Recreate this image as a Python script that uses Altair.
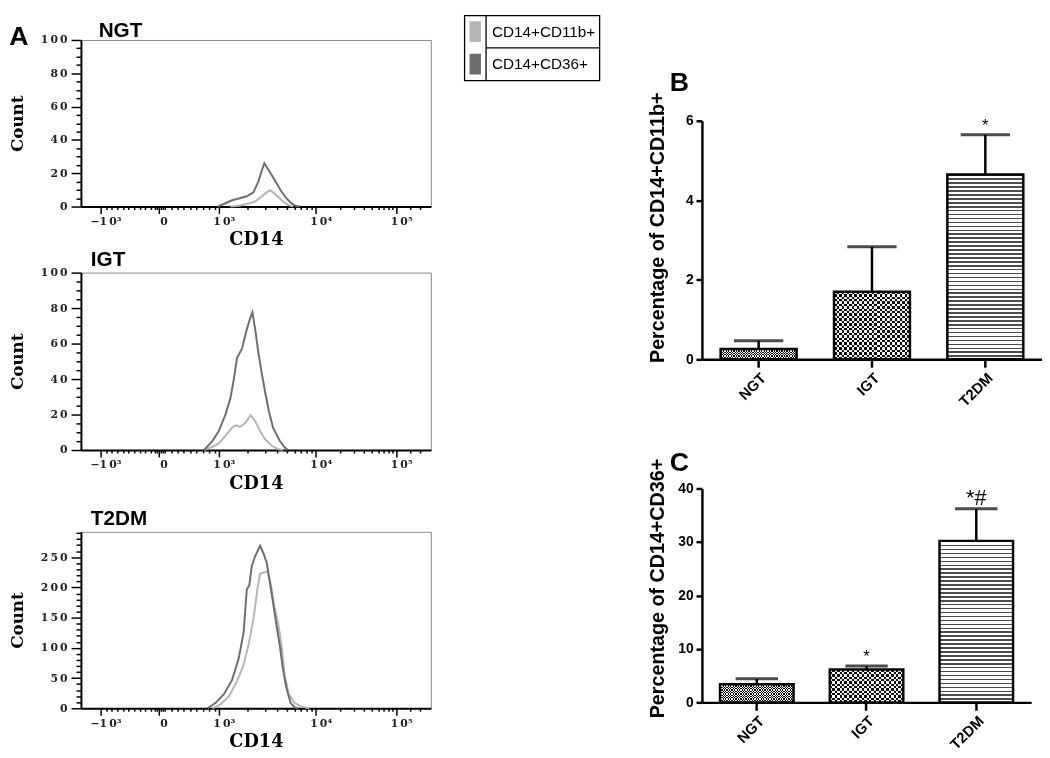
import altair as alt
import pandas as pd

# ---------------- data ----------------
groups = ["NGT", "IGT", "T2DM"]
pct_cd11b_mean = [0.26, 1.70, 4.65]
pct_cd11b_upper = [0.47, 2.83, 5.65]
pct_cd11b_sig = ["", "", "*"]
pct_cd36_mean = [3.4, 6.15, 30.2]
pct_cd36_upper = [4.4, 6.8, 36.2]
pct_cd36_sig = ["", "*", "*#"]

series = ["CD14+CD11b+", "CD14+CD36+"]

# histograms: CD14 on a display (channel) scale 0-1000, counts
ngt_cd36_x = [390, 413, 432, 451, 474, 493, 507, 516, 524, 533, 545, 559, 573, 587, 601, 615, 624]
ngt_cd36_y = [0, 2, 3.8, 4.8, 6.2, 8.5, 15, 21, 26, 23, 19, 14, 9, 5, 2, 0.3, 0]
ngt_cd11b_x = [427, 451, 474, 498, 516, 531, 540, 549, 563, 577, 592, 606]
ngt_cd11b_y = [0, 0.5, 1.5, 3, 6, 8.5, 9.8, 8.5, 6, 3, 1, 0]
igt_cd36_x = [352, 376, 394, 413, 427, 437, 446, 460, 474, 484, 490, 498, 507, 516, 526, 537, 549, 568, 582, 592]
igt_cd36_y = [0, 5.2, 10.7, 20, 29, 40, 52, 57, 68, 74.5, 77.6, 68, 55, 44, 33, 22, 12.6, 5.2, 1.5, 0]
igt_cd11b_x = [352, 376, 394, 413, 432, 443, 455, 470, 485, 498, 512, 526, 545, 563, 577]
igt_cd11b_y = [0, 1.8, 3.7, 8, 12.6, 14, 13, 15.3, 19.6, 16.3, 10.7, 6.1, 2.4, 0.6, 0]
t2dm_cd36_x = [362, 385, 408, 432, 451, 465, 474, 481, 488, 498, 512, 521, 531, 540, 549, 559, 568, 577, 587, 599, 610, 620]
t2dm_cd36_y = [0, 9, 23, 47, 83, 126, 197, 203, 235, 252, 269, 257, 241, 208, 175, 137, 105, 66, 34, 9, 2, 0]
t2dm_cd11b_x = [376, 399, 423, 446, 465, 479, 493, 505, 512, 526, 533, 543, 552, 563, 573, 582, 594, 610, 629, 653]
t2dm_cd11b_y = [0, 6.5, 20, 45, 72, 105, 148, 200, 223, 225, 227, 205, 170, 143, 105, 56, 23, 9, 3, 0]

cd14_major = [56, 222, 394, 671, 901]
cd14_labels = ["\u22121\u20090\u00b3", "0", "1\u20090\u00b3", "1\u20090\u2074", "1\u20090\u2075"]
cd14_minor = [72, 88, 104, 120, 136, 152, 168, 184, 200, 210, 216, 228, 234, 240, 258, 276, 294, 312,
              330, 348, 366, 384, 477, 526, 561, 588, 610, 628, 644, 658, 740, 781, 809, 832, 850,
              865, 879, 891, 940, 970]

LIGHT = "#b5b5b5"
DARK = "#6e6e6e"
SERIF = "DejaVu Serif"
SANS = "Liberation Sans"
CSCALE = alt.Scale(domain=series, range=[LIGHT, DARK])


def spaced(s):
    return "\u2009".join(str(s))


def spacer(w, h):
    return alt.Chart(pd.DataFrame({"t": [0]})).mark_rule(strokeWidth=0, opacity=0).encode(
        x=alt.value(0), y=alt.value(0), y2=alt.value(h)).properties(
        width=w, height=h, view=alt.ViewBackground(strokeOpacity=0))


def label_text(txt, x, y, size, align="left", baseline="alphabetic"):
    return alt.Chart(pd.DataFrame({"t": [txt]})).mark_text(
        font=SANS, fontSize=size, fontWeight="bold", align=align, baseline=baseline,
        color="black").encode(text="t:N", x=alt.value(x), y=alt.value(y))


def flow_panel(title, cd11b_x, cd11b_y, cd36_x, cd36_y, ymax, ytop, major, minor, h,
               title_dx, title_dy, letter):
    df = pd.DataFrame({
        "cd14": cd11b_x + cd36_x,
        "count": cd11b_y + cd36_y,
        "pop": [series[0]] * len(cd11b_x) + [series[1]] * len(cd36_x),
    })
    yvals = list(range(0, ytop + 1, minor))
    ymaj = [v for v in yvals if v % major == 0]
    ylab = " : ".join(f"datum.value == {v} ? '{spaced(v)}'" for v in ymaj) + " : ''"
    xlab = " : ".join(f"datum.value == {v} ? '{l}'" for v, l in zip(cd14_major, cd14_labels)) + " : ''"
    xtest = "indexof([" + ",".join(str(v) for v in cd14_major) + "], datum.value) >= 0"

    xaxis = alt.Axis(
        values=cd14_major + cd14_minor, labelExpr=xlab, labelOverlap=False, labelBound=False,
        tickSize={"condition": {"test": xtest, "value": 7}, "value": 3},
        tickColor="black", tickWidth=1.5, domainColor="black", domainWidth=2,
        labelFont=SERIF, labelFontSize=11, labelFontWeight="bold", labelColor="#222",
        labelPadding=2, labelOffset=5,
        title="CD14", titleFont=SERIF, titleFontSize=18, titleFontWeight="bold",
        titleColor="black", titlePadding=5, grid=False)
    yaxis = alt.Axis(
        values=yvals, labelExpr=ylab, labelOverlap=False, labelBound=False,
        tickSize={"condition": {"test": f"datum.value % {major} == 0", "value": 10}, "value": 5},
        tickColor="black", tickWidth=1.5, domainColor="black", domainWidth=2,
        labelFont=SERIF, labelFontSize=11, labelFontWeight="bold", labelColor="#222",
        labelPadding=4,
        title="Count", titleFont=SERIF, titleFontSize=17, titleFontWeight="bold",
        titleColor="black", titlePadding=14, grid=False)

    lines = alt.Chart(df).mark_line(strokeWidth=2).encode(
        x=alt.X("cd14:Q", scale=alt.Scale(domain=[0, 1000], nice=False, zero=False), axis=xaxis),
        y=alt.Y("count:Q", scale=alt.Scale(domain=[0, ymax], nice=False), axis=yaxis),
        color=alt.Color("pop:N", scale=CSCALE, legend=None),
        order=alt.Order("cd14:Q"),
    )
    layers = [lines, label_text(title, title_dx, title_dy, 21)]
    if letter:
        layers.append(label_text(letter, -63, 5, 27, "center"))
    return alt.layer(*layers).properties(
        width=355, height=h,
        view=alt.ViewBackground(stroke="#8a8a8a", strokeWidth=1),
    )


def stripes(n, c1, c2, vertical, duty):
    stops = []
    for i in range(n):
        a = i / n
        m = (i + duty) / n
        b = (i + 1) / n
        stops += [{"offset": a, "color": c1}, {"offset": m, "color": c1},
                  {"offset": m, "color": c2}, {"offset": b, "color": c2}]
    if vertical:
        return {"gradient": "linear", "stops": stops, "x1": 0, "x2": 1, "y1": 0, "y2": 0}
    return {"gradient": "linear", "stops": stops, "x1": 0, "x2": 0, "y1": 0, "y2": 1}


def bar_panel(means, uppers, sigs, ymax, yvals, w, h, ytitle, title_y, letter, letter_y, cap):
    df = pd.DataFrame({"group": groups, "mean": means, "upper": uppers, "sig": sigs})
    xaxis = alt.Axis(title=None, labelAngle=-45, labelFont=SANS, labelFontWeight="bold",
                     labelFontSize=15, labelColor="black", tickSize=8, tickWidth=2.5,
                     tickColor="black", domainColor="black", domainWidth=2.5, labelPadding=3)
    yaxis = alt.Axis(title=ytitle, values=yvals, grid=False, labelFont=SANS, labelFontWeight="bold",
                     labelFontSize=14, labelColor="black", tickSize=6, tickWidth=2.5,
                     tickColor="black", domainColor="black", domainWidth=2.5, labelPadding=3,
                     titleFont=SANS, titleFontSize=20, titleFontWeight="bold", titleColor="black",
                     titleX=-35, titleY=title_y, titleAngle=270, titleBaseline="bottom",
                     titleAlign="center")
    xs = alt.Scale(domain=groups, paddingInner=0.33, paddingOuter=0.165)
    ys = alt.Scale(domain=[0, ymax], nice=False)
    x = alt.X("group:N", sort=groups, scale=xs, axis=xaxis)
    y = alt.Y("mean:Q", scale=ys, axis=yaxis)
    yu = alt.Y("upper:Q", scale=ys, axis=yaxis)
    ppu = h / ymax
    bw = w / 3 * 0.67
    base = alt.Chart(df)
    layers = []
    for g, m in zip(groups, means):
        hpx = m * ppu
        sub = base.transform_filter(alt.datum.group == g)
        if g == "T2DM":
            n = max(1, round(hpx / 4))
            layers.append(sub.mark_bar(fill=stripes(n, "#4d4d4d", "#ffffff", False, 0.4)).encode(x=x, y=y))
        else:
            sq = 2.6 if g == "NGT" else 5
            nr = max(1, round(hpx / sq))
            nc = max(1, round(bw / sq))
            layers.append(sub.mark_bar(fill=stripes(nr, "#111111", "#ffffff", False, 0.5)).encode(x=x, y=y))
            layers.append(sub.mark_bar(fill=stripes(nc, "#ffffff", "#000000", True, 0.5),
                                       blend="difference").encode(x=x, y=y))
    layers.append(base.mark_rule(color="black", strokeWidth=2.5).encode(x=x, y=y, y2="upper:Q"))
    layers.append(base.mark_tick(color="black", thickness=3, size=cap).encode(x=x, y=yu))
    layers.append(base.mark_bar(fillOpacity=0, stroke="black", strokeWidth=2.5).encode(x=x, y=y))
    layers.append(base.mark_text(font=SANS, baseline="alphabetic", dy=-4, color="black").encode(
        x=x, y=yu, text="sig:N",
        size=alt.condition("datum.sig == '*#'", alt.value(22), alt.value(17))))
    layers.append(label_text(letter, -23, letter_y, 27, "center"))
    return alt.layer(*layers).properties(
        width=w, height=h, view=alt.ViewBackground(strokeOpacity=0))


def legend_box():
    ldf = pd.DataFrame({"s": series})
    one = pd.DataFrame({"t": [0]})
    ly = alt.Y("s:N", sort=series, axis=None, scale=alt.Scale(domain=series))
    divider = alt.Chart(one).mark_rule(color="black", strokeWidth=1.3).encode(
        x=alt.value(22), y=alt.value(0), y2=alt.value(66))
    sep = alt.Chart(one).mark_rule(color="black", strokeWidth=1.3).encode(
        x=alt.value(22), x2=alt.value(137), y=alt.value(33))
    swatch = alt.Chart(ldf).mark_point(shape="M-0.55,-1H0.55V1H-0.55Z", filled=True, size=441,
                                       opacity=1, strokeWidth=0).encode(
        x=alt.value(11), y=ly, color=alt.Color("s:N", scale=CSCALE, legend=None))
    labels = alt.Chart(ldf).mark_text(align="left", baseline="middle", font=SANS, fontSize=15.5,
                                      color="black").encode(x=alt.value(28), y=ly, text="s:N")
    return alt.layer(divider, sep, swatch, labels).properties(
        width=137, height=66, view=alt.ViewBackground(stroke="black", strokeWidth=1.3))


ngt = flow_panel("NGT", ngt_cd11b_x, ngt_cd11b_y, ngt_cd36_x, ngt_cd36_y, 100, 100, 20, 5, 169, 18, -3, "A")
igt = flow_panel("IGT", igt_cd11b_x, igt_cd11b_y, igt_cd36_x, igt_cd36_y, 100, 100, 20, 5, 180, 10, -7, None)
t2dm = flow_panel("T2DM", t2dm_cd11b_x, t2dm_cd11b_y, t2dm_cd36_x, t2dm_cd36_y, 292, 290, 50, 10, 179, 10, -7, None)

panel_b = bar_panel(pct_cd11b_mean, pct_cd11b_upper, pct_cd11b_sig, 6, [0, 2, 4, 6], 345, 242,
                    "Percentage of CD14+CD11b+", 108, "B", -30, 50)
panel_c = bar_panel(pct_cd36_mean, pct_cd36_upper, pct_cd36_sig, 40, [0, 10, 20, 30, 40], 334, 217,
                    "Percentage of CD14+CD36+", 101, "C", -18, 43)

col0 = alt.vconcat(spacer(1, 25), ngt, spacer(1, 67), igt, spacer(1, 83), t2dm,
                   spacing=0, bounds="flush")
col1 = alt.vconcat(legend_box(), spacer(153, 1), spacing=0, bounds="flush")
col2 = alt.vconcat(spacer(1, 107), panel_b, spacer(1, 131), panel_c, spacing=0, bounds="flush")

chart = alt.hconcat(col0, col1, col2, spacing=32).properties(
    padding=0, background="white").configure(font=SANS)

chart.save("out.html", embed_options={"renderer": "svg", "actions": False})
